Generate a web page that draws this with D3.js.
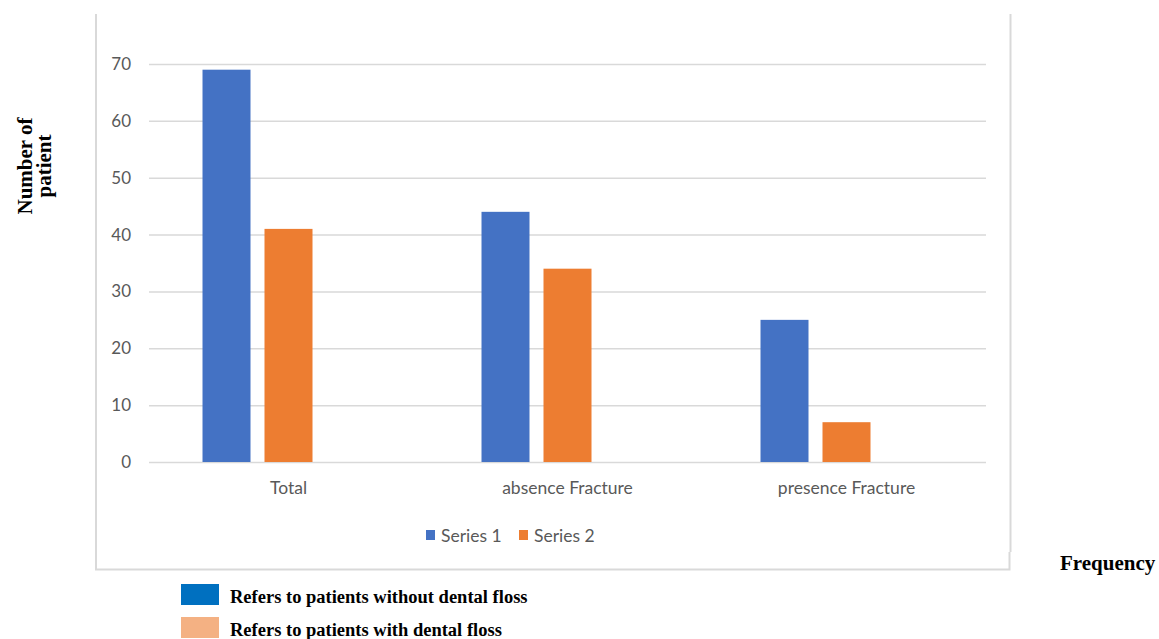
<!DOCTYPE html>
<html>
<head>
<meta charset="utf-8">
<script src="https://cdn.jsdelivr.net/npm/d3@7"></script>
<style>
  html, body { margin: 0; padding: 0; background: #ffffff; }
  svg { display: block; }
</style>
</head>
<body>
<svg id="chart" width="1159" height="639"></svg>
<script>
// Categories and series values
const categories = ["Total", "absence Fracture", "presence Fracture"];
const seriesNames = ["Series 1", "Series 2", "Series 3"];   // Series 3 is an empty slot
const series1 = [69, 44, 25];
const series2 = [41, 34, 7];
const yTicks = [0, 10, 20, 30, 40, 50, 60, 70];
const legendNames = ["Series 1", "Series 2"];
const noteLabels = ["Refers to patients without dental floss", "Refers to patients with dental floss"];

const colors = { "Series 1": "#4472C4", "Series 2": "#ED7D31" };
const noteColors = ["#0070C0", "#F4B183"];

const svg = d3.select("#chart");
const plot = { left: 149, right: 986, top: 64, bottom: 462 };
const sansFont = "Lato, 'Open Sans', sans-serif";
const serifFont = "'Liberation Serif', 'Times New Roman', serif";

// Frame around the chart area
svg.append("path")
  .attr("d", "M96,14 V569.5 H1009.5 V552 M1010.5,552 V14")
  .attr("fill", "none")
  .attr("stroke", "#d9d9d9")
  .attr("stroke-width", 2);

const y = d3.scaleLinear().domain([0, 70]).range([plot.bottom, plot.top]);
const x0 = d3.scaleBand().domain(categories).range([plot.left, plot.right]).paddingInner(0).paddingOuter(0);
const x1 = d3.scaleBand().domain(seriesNames).range([0, x0.bandwidth()])
  .paddingInner(14 / 62).paddingOuter(0.863);

// Gridlines + y tick labels
const yAxis = d3.axisLeft(y).tickValues(yTicks).tickSize(-(plot.right - plot.left)).tickPadding(18).tickFormat(d3.format("d"));
const yg = svg.append("g").attr("transform", `translate(${plot.left},0)`).call(yAxis);
yg.select(".domain").remove();
yg.selectAll(".tick line").attr("stroke", "#d9d9d9").attr("stroke-width", 1.5);
yg.selectAll(".tick text")
  .attr("fill", "#595959")
  .attr("font-family", sansFont)
  .attr("font-size", 17);

// Bars
const rows = categories.map((c, i) => ({ cat: c, vals: [
  { s: "Series 1", v: series1[i] },
  { s: "Series 2", v: series2[i] }
]}));
const groups = svg.append("g").selectAll("g").data(rows).join("g")
  .attr("transform", d => `translate(${x0(d.cat)},0)`);
groups.selectAll("rect").data(d => d.vals).join("rect")
  .attr("x", d => x1(d.s))
  .attr("width", x1.bandwidth())
  .attr("y", d => y(d.v))
  .attr("height", d => y(0) - y(d.v))
  .attr("fill", d => colors[d.s]);

// Category axis labels
const xAxis = d3.axisBottom(x0).tickSize(0).tickPadding(20);
const xg = svg.append("g").attr("transform", `translate(0,${plot.bottom})`).call(xAxis);
xg.select(".domain").remove();
xg.selectAll(".tick text")
  .attr("fill", "#595959")
  .attr("font-family", sansFont)
  .attr("font-size", 17.5);

// Series legend
const legX = [426, 519];
const leg = svg.append("g").selectAll("g").data(legendNames).join("g")
  .attr("transform", (d, i) => `translate(${legX[i]},530)`);
leg.append("rect").attr("width", 9).attr("height", 10).attr("fill", d => colors[d]);
leg.append("text").attr("x", 15).attr("y", 11.5)
  .attr("fill", "#595959")
  .attr("font-family", sansFont)
  .attr("font-size", 17.5)
  .text(d => d);

// Y axis title
svg.append("text")
  .attr("transform", "translate(32,166) rotate(-90)")
  .attr("text-anchor", "middle")
  .attr("font-family", serifFont)
  .attr("font-weight", "bold")
  .attr("font-size", 21)
  .attr("fill", "#000")
  .selectAll("tspan").data(["Number of", "patient"]).join("tspan")
  .attr("x", 0).attr("dy", (d, i) => i === 0 ? 0 : 19)
  .text(d => d);

// X axis title
svg.append("text")
  .attr("x", 1060).attr("y", 570)
  .attr("font-family", serifFont)
  .attr("font-weight", "bold")
  .attr("font-size", 21)
  .attr("fill", "#000")
  .text("Frequency");

// Notes below the chart
const notes = svg.append("g").selectAll("g").data(noteLabels).join("g")
  .attr("transform", (d, i) => `translate(181,${584 + i * 33})`);
notes.append("rect").attr("width", 38).attr("height", 21).attr("fill", (d, i) => noteColors[i]);
notes.append("text").attr("x", 49).attr("y", 18.5)
  .attr("font-family", serifFont)
  .attr("font-weight", "bold")
  .attr("font-size", 18.5)
  .attr("fill", "#000")
  .text(d => d);
</script>
</body>
</html>
